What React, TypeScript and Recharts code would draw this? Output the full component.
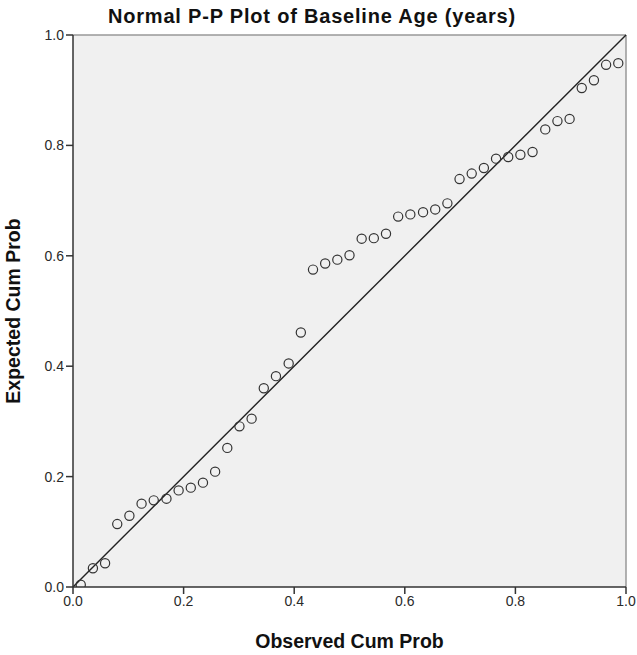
import {
  ScatterChart, Scatter, XAxis, YAxis, CartesianGrid, ReferenceLine, Label,
} from 'recharts';

const observed = [
  0.014, 0.036, 0.058, 0.080, 0.102, 0.124, 0.146, 0.169, 0.191, 0.213,
  0.235, 0.257, 0.279, 0.301, 0.323, 0.345, 0.367, 0.390, 0.412, 0.434,
  0.456, 0.478, 0.500, 0.522, 0.544, 0.566, 0.588, 0.610, 0.633, 0.655,
  0.677, 0.699, 0.721, 0.743, 0.765, 0.787, 0.809, 0.831, 0.854, 0.876,
  0.898, 0.920, 0.942, 0.964, 0.986,
];

const expected = [
  0.004, 0.034, 0.043, 0.114, 0.129, 0.151, 0.157, 0.160, 0.175, 0.180,
  0.189, 0.209, 0.252, 0.291, 0.305, 0.360, 0.382, 0.405, 0.461, 0.575,
  0.586, 0.593, 0.601, 0.631, 0.632, 0.640, 0.671, 0.675, 0.679, 0.684,
  0.695, 0.739, 0.749, 0.759, 0.776, 0.779, 0.783, 0.788, 0.829, 0.844,
  0.848, 0.904, 0.918, 0.946, 0.949,
];

const ticks = [0, 0.2, 0.4, 0.6, 0.8, 1.0];

const points = observed.map((x, i) => ({ x, y: expected[i] }));

const font = 'Liberation Sans, Arial, sans-serif';
const tickStyle = { fontSize: 14, fill: '#2a2a2a', fontFamily: font };
const labelStyle = { fontSize: 19.5, fontWeight: 'bold', fill: '#111', fontFamily: font };

function Ring(props: any) {
  const { cx, cy } = props;
  return <circle cx={cx} cy={cy} r={4.6} fill="none" stroke="#333" strokeWidth={1.2} />;
}

export default function App() {
  return (
    <div style={{ position: 'absolute', left: 0, top: 0, width: 637, height: 655, background: '#fff' }}>
      <div
        style={{
          position: 'absolute', top: 5, left: 108, whiteSpace: 'nowrap', lineHeight: '23px',
          fontFamily: font, fontWeight: 'bold', fontSize: 20, letterSpacing: 0.8, color: '#111',
        }}
      >
        Normal P-P Plot of Baseline Age (years)
      </div>
      <ScatterChart width={637} height={655} margin={{ top: 35, right: 11, bottom: 38, left: 23 }}>
        <CartesianGrid horizontal={false} vertical={false} fill="#F0F0F0" />
        <XAxis
          type="number"
          dataKey="x"
          domain={[0, 1]}
          ticks={ticks}
          tickFormatter={(v: number) => v.toFixed(1)}
          tick={tickStyle}
          tickSize={7}
          tickMargin={2}
          height={30}
          stroke="#333"
          strokeWidth={1.5}
          allowDataOverflow
        >
          <Label value="Observed Cum Prob" position="insideBottom" offset={-31} style={labelStyle} />
        </XAxis>
        <YAxis
          type="number"
          dataKey="y"
          domain={[0, 1]}
          ticks={ticks}
          tickFormatter={(v: number) => v.toFixed(1)}
          tick={tickStyle}
          tickSize={7}
          tickMargin={2}
          width={50}
          stroke="#333"
          strokeWidth={1.5}
          allowDataOverflow
        >
          <Label value="Expected Cum Prob" angle={-90} position="insideLeft" offset={-10} style={{ ...labelStyle, textAnchor: 'middle' }} />
        </YAxis>
        <ReferenceLine y={1} stroke="#999" strokeWidth={1.5} />
        <ReferenceLine x={1} stroke="#999" strokeWidth={1.5} />
        <ReferenceLine segment={[{ x: 0, y: 0 }, { x: 1, y: 1 }]} stroke="#222" strokeWidth={1.4} />
        <Scatter data={points} shape={<Ring />} isAnimationActive={false} />
      </ScatterChart>
    </div>
  );
}
